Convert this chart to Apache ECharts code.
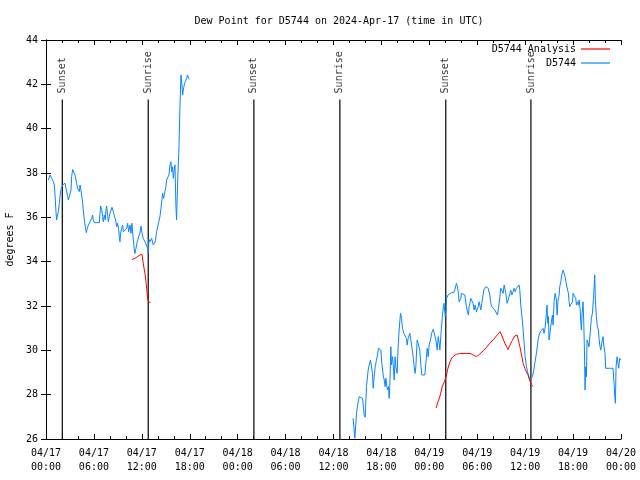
<!DOCTYPE html>
<html><head><meta charset="utf-8">
<script src="https://cdn.jsdelivr.net/npm/echarts@6/dist/echarts.min.js"></script>
<style>html,body{margin:0;padding:0;background:#fff}#c{width:640px;height:480px}</style>
</head><body><div id="c"></div>
<script>
// hours since 2024-04-17 00:00 UTC
const xTickLabels = ["04/17\n00:00","04/17\n06:00","04/17\n12:00","04/17\n18:00","04/18\n00:00","04/18\n06:00","04/18\n12:00","04/18\n18:00","04/19\n00:00","04/19\n06:00","04/19\n12:00","04/19\n18:00","04/20\n00:00"];
const yTicks = [26,28,30,32,34,36,38,40,42,44];

const obsHours = [0.29,0.50,0.71,0.92,1.04,1.13,1.25,1.33,1.42,1.54,1.67,1.75,1.88,2.09,2.38,2.50,2.59,2.71,2.80,3.00,3.13,3.21,3.34,3.55,3.63,3.84,3.96,4.17,4.26,4.38,4.55,4.67,4.80,4.92,5.05,5.17,5.30,5.51,5.72,5.84,5.92,6.05,6.34,6.68,6.76,6.84,6.97,7.09,7.18,7.30,7.43,7.51,7.59,7.72,7.80,7.93,8.01,8.14,8.26,8.34,8.43,8.64,8.76,8.84,8.97,9.09,9.18,9.26,9.35,9.47,9.60,9.68,9.89,10.10,10.22,10.35,10.51,10.64,10.76,10.93,11.06,11.14,11.26,11.43,11.60,11.76,11.89,12.02,12.18,12.39,12.60,12.72,12.81,12.89,13.02,13.23,13.43,13.56,13.68,13.85,13.98,14.10,14.27,14.39,14.52,14.60,14.73,14.81,15.02,15.10,15.31,15.39,15.52,15.64,15.73,15.85,15.94,16.06,16.15,16.27,16.35,16.50,16.65,16.77,16.90,17.02,17.11,17.19,17.31,17.44,17.61,17.73,17.86,17.99,
38.46,38.67,38.80,38.88,39.01,39.22,39.42,39.63,39.72,39.84,39.97,40.05,40.13,40.34,40.47,40.63,40.76,40.88,40.97,41.09,41.22,41.38,41.51,41.63,41.80,41.93,42.05,42.22,42.35,42.47,42.55,42.68,42.76,42.89,42.97,43.05,43.18,43.26,43.39,43.47,43.60,43.72,43.81,43.97,44.10,44.22,44.39,44.52,44.64,44.81,44.97,45.14,45.22,45.35,45.56,45.68,45.81,45.97,46.10,46.22,46.31,46.48,46.73,46.81,46.94,47.06,47.23,47.44,47.56,47.73,47.86,47.98,48.15,48.28,48.49,48.70,48.82,48.99,49.11,49.24,49.32,49.45,49.53,49.66,49.83,49.99,50.08,50.16,
50.35,50.56,50.77,51.06,51.19,51.31,51.39,51.52,51.65,51.73,51.81,51.94,52.02,52.23,52.44,52.57,52.65,52.77,52.90,52.98,53.07,53.19,53.32,53.48,53.61,53.73,53.90,54.11,54.23,54.32,54.44,54.57,54.74,54.82,54.94,55.07,55.24,55.37,55.49,55.57,55.70,55.82,55.99,56.20,56.41,56.53,56.66,56.83,56.95,57.08,57.24,57.37,57.45,57.58,57.74,57.87,57.99,58.08,58.20,58.33,58.50,58.62,58.75,58.91,59.12,59.24,59.33,59.45,59.58,59.75,59.87,60.00,60.17,60.29,60.42,60.58,60.71,
60.91,61.08,61.20,61.41,61.62,61.74,61.91,62.08,62.24,62.37,62.49,62.66,62.74,62.83,62.91,62.99,63.08,63.20,63.33,63.41,63.50,63.62,63.75,63.91,64.00,64.12,64.25,64.33,64.46,64.58,64.75,64.87,65.00,65.17,65.29,65.42,65.50,65.58,65.79,65.92,66.00,66.21,66.33,66.42,66.54,66.67,66.75,66.88,66.96,67.04,67.13,67.25,67.33,67.42,67.50,67.58,67.67,67.75,67.88,68.00,68.17,68.29,68.42,68.59,68.71,68.79,68.92,69.04,69.17,69.25,69.34,69.46,69.59,69.75,69.84,70.00,70.09,70.38,70.67,71.00,71.13,71.21,71.30,71.38,71.51,71.63,71.71,71.84,71.96];
const obsDew = [37.68,37.91,37.76,37.61,37.46,37.01,36.25,35.88,36.03,36.25,36.63,36.93,37.26,37.46,37.54,37.61,37.46,36.93,36.79,36.81,37.23,37.83,38.16,38.10,37.91,37.53,37.31,37.16,37.46,37.23,36.78,36.33,35.88,35.58,35.31,35.50,35.65,35.80,35.95,36.10,35.88,35.76,35.76,35.76,36.18,36.51,36.36,36.03,35.80,36.10,35.88,36.33,36.51,36.10,35.80,36.03,36.18,36.18,36.45,36.48,36.25,36.25,35.80,35.58,35.73,35.50,35.10,34.90,35.28,35.50,35.65,35.35,35.28,35.50,35.73,35.35,35.65,35.28,35.73,34.98,34.53,34.37,34.60,34.90,35.13,35.28,35.61,35.28,35.05,34.90,34.83,34.60,34.37,35.01,34.90,35.05,34.75,34.68,34.90,35.35,35.58,35.76,36.03,36.40,36.78,37.08,36.86,37.01,37.38,37.68,37.71,37.91,38.36,38.51,38.06,38.28,37.76,38.13,38.36,36.48,35.88,37.76,39.18,40.99,42.42,41.97,41.52,41.74,41.97,42.12,42.27,42.42,42.27,42.22,
26.93,26.03,26.71,27.16,27.53,27.91,27.94,27.83,27.53,27.08,26.98,27.68,28.36,29.11,29.34,29.56,29.64,28.96,28.29,28.81,29.26,29.56,29.79,30.09,30.16,30.01,29.41,28.89,28.66,28.36,28.74,28.81,28.21,28.36,27.83,28.36,30.16,29.34,29.71,29.41,28.66,29.71,29.26,28.96,30.24,30.92,31.67,31.44,30.99,30.77,30.69,30.54,30.24,30.54,30.77,30.69,30.16,29.71,29.26,28.96,29.26,30.47,30.47,30.01,29.34,28.89,28.89,28.89,29.41,30.09,29.71,30.24,30.47,30.77,30.95,30.92,30.47,30.01,30.62,30.32,30.01,30.69,31.07,31.67,32.12,31.52,31.82,32.34,
32.50,32.57,32.60,32.60,32.72,32.80,33.02,32.87,32.57,32.19,32.12,32.34,32.57,32.57,32.50,32.42,31.97,31.74,31.59,31.97,32.12,32.34,32.27,32.12,31.82,32.04,31.74,31.97,32.19,32.04,31.82,32.12,32.50,32.72,32.80,32.87,32.80,32.80,32.72,32.50,32.12,31.97,31.97,31.82,31.74,31.59,31.89,32.42,32.80,32.72,32.57,32.95,32.87,32.57,32.12,32.27,32.34,32.57,32.72,32.50,32.65,32.80,32.65,32.80,32.72,32.95,32.72,32.04,31.59,30.92,30.32,29.71,29.26,29.04,28.89,28.66,28.59,
28.81,29.11,29.41,29.86,30.47,30.69,30.84,30.92,30.99,30.77,30.99,31.67,32.04,31.22,31.52,30.47,30.69,31.07,31.14,31.59,31.14,32.19,32.57,32.27,31.59,32.27,32.50,32.87,33.10,33.40,33.62,33.47,33.32,32.95,32.95,32.57,32.19,31.97,31.97,32.19,32.57,32.57,32.34,32.04,32.19,32.04,32.27,31.89,31.29,30.92,31.67,32.19,31.37,30.01,28.21,29.26,28.81,30.47,30.32,30.16,30.92,31.44,31.67,32.57,33.40,32.27,31.52,31.07,30.92,30.54,30.24,30.01,30.32,30.62,30.24,29.86,29.19,29.19,29.19,29.19,28.51,27.98,27.61,29.26,29.71,29.41,29.19,29.64,29.56];

const anaHours = [10.76,11.14,11.43,11.76,12.02,12.18,12.39,12.52,12.60,12.72,12.85,13.10,
48.85,49.10,49.35,49.60,49.90,50.10,50.30,50.55,50.80,51.05,51.40,51.80,52.60,53.10,53.50,53.90,54.30,54.75,55.15,55.55,56.00,56.40,56.85,57.05,57.45,57.85,58.30,58.70,59.00,59.25,59.55,59.75,59.95,60.15,60.35,60.55,60.80,61.00];
const anaDew = [34.10,34.15,34.22,34.30,34.33,33.92,33.47,33.10,32.80,32.34,32.19,32.15,
27.40,27.70,27.95,28.35,28.60,28.80,29.15,29.45,29.65,29.75,29.82,29.86,29.86,29.86,29.79,29.71,29.83,29.98,30.13,30.32,30.47,30.65,30.84,30.69,30.32,30.04,30.39,30.65,30.69,30.32,29.79,29.41,29.19,29.11,28.89,28.66,28.44,28.38];

const sunHours = [2.04,12.80,26.03,36.80,50.06,60.72];
const sunLabels = ["Sunset","Sunrise","Sunset","Sunrise","Sunset","Sunrise"];
const sunLineTop = 41.32;

function toSeries(xs, ys){
  const out = [];
  for (let i = 0; i < xs.length; i++){
    if (i > 0 && xs[i] - xs[i-1] > 2) out.push([(xs[i]+xs[i-1])/2, '-']);
    out.push([xs[i], ys[i]]);
  }
  return out;
}
const sunLineData = [];
sunHours.forEach((h,i)=>{ if(i) sunLineData.push([h,'-']); sunLineData.push([h,26]); sunLineData.push([h,sunLineTop]); });

const FONT = 'DejaVu Sans Mono';
const BLUE = '#0a84ff', RED = '#ff0000';
const chart = echarts.init(document.getElementById('c'), null, {renderer:'canvas'});
const xBase = {
  type:'value', min:0, max:72, interval:6,
  axisLine:{show:true, lineStyle:{color:'#000', width:1}},
  axisTick:{show:true, inside:true, length:5, lineStyle:{color:'#000'}},
  minorTick:{show:true, splitNumber:3, length:3, lineStyle:{color:'#000'}},
  splitLine:{show:false}
};
const yBase = {
  type:'value', min:26, max:44, interval:2,
  axisLine:{show:true, lineStyle:{color:'#000', width:1}},
  axisTick:{show:true, inside:true, length:5, lineStyle:{color:'#000'}},
  splitLine:{show:false}
};
chart.setOption({
  animation:false,
  backgroundColor:'#fff',
  title:{text:'Dew Point for D5744 on 2024-Apr-17 (time in UTC)', left:334, textAlign:'center', top:11,
    textStyle:{fontFamily:FONT, fontSize:10, fontWeight:'normal', color:'#000'}},
  grid:{left:46, right:19, top:40, bottom:41, containLabel:false, outerBoundsMode:'none'},
  legend:{data:['D5744 Analysis','D5744'], orient:'vertical', align:'right', right:25, top:39,
    icon:'rect', itemWidth:29, itemHeight:1.2, itemGap:4,
    textStyle:{fontFamily:FONT, fontSize:10, color:'#000', lineHeight:10}},
  xAxis:[
    Object.assign({}, xBase, {position:'bottom',
      axisLabel:{fontFamily:FONT, fontSize:10, color:'#000', lineHeight:14, margin:7,
        formatter:(v)=>xTickLabels[Math.round(v/6)]}}),
    Object.assign({}, xBase, {position:'top', axisLabel:{show:false}})
  ],
  yAxis:[
    Object.assign({}, yBase, {position:'left', name:'degrees F', nameLocation:'middle', nameGap:31,
      nameTextStyle:{fontFamily:FONT, fontSize:10, color:'#000'},
      axisLabel:{fontFamily:FONT, fontSize:10, color:'#000', margin:8,
        formatter:(v)=>yTicks.includes(v)?String(v):''}}),
    Object.assign({}, yBase, {position:'right', axisLabel:{show:false}})
  ],
  series:[
    {name:'sun', type:'line', data:sunLineData, symbol:'none', silent:true,
      lineStyle:{color:'#000', width:1.2}, itemStyle:{color:'#000'}, z:1},
    {name:'sunlabel', type:'scatter', data:sunHours.map(h=>[h,sunLineTop]), symbolSize:0, silent:true,
      label:{show:true, formatter:(p)=>sunLabels[p.dataIndex], position:[0,0], align:'left', verticalAlign:'middle',
        rotate:90, offset:[6,0], fontFamily:FONT, fontSize:10, color:'#000'}},
    {name:'D5744 Analysis', type:'line', data:toSeries(anaHours, anaDew), symbol:'none',
      lineStyle:{color:RED, width:1}, itemStyle:{color:RED}, z:3},
    {name:'D5744', type:'line', data:toSeries(obsHours, obsDew), symbol:'none',
      lineStyle:{color:BLUE, width:1}, itemStyle:{color:BLUE}, z:2}
  ]
});
</script></body></html>
